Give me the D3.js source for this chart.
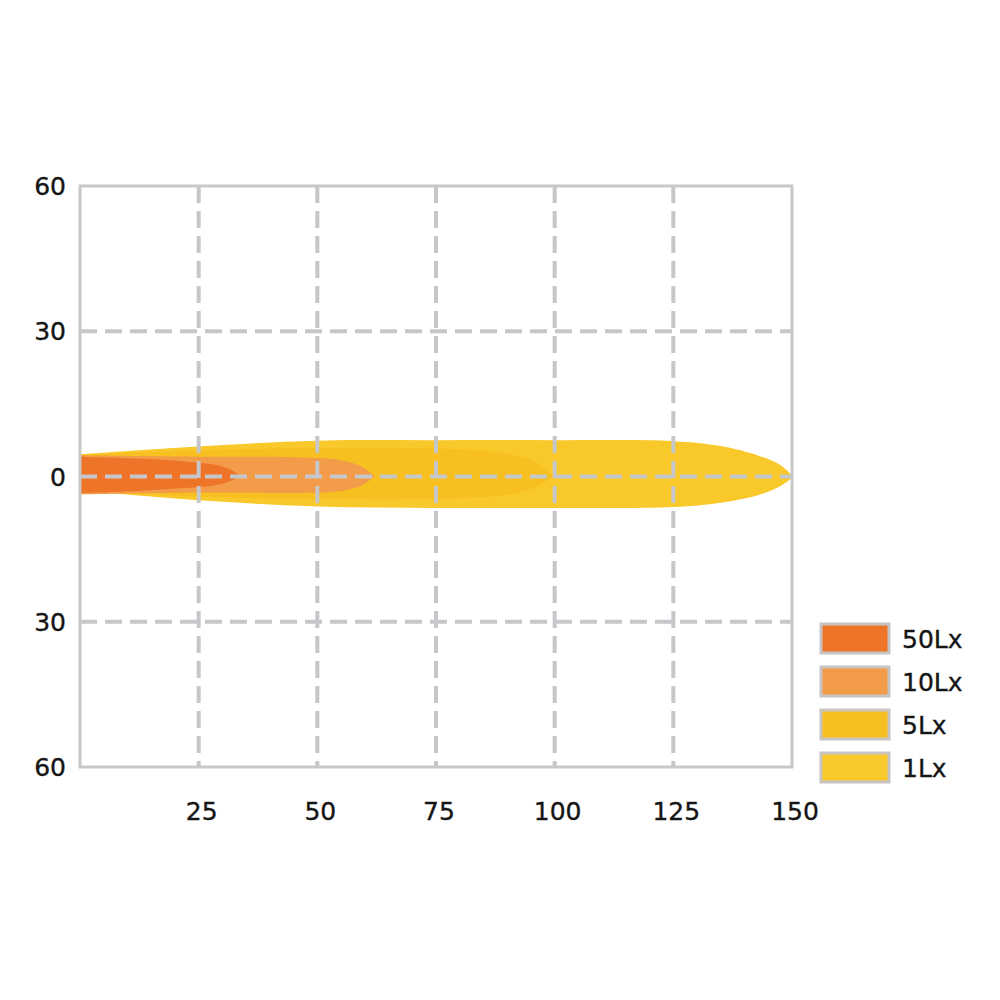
<!DOCTYPE html>
<html>
<head>
<meta charset="utf-8">
<script src="https://cdn.jsdelivr.net/npm/d3@7"></script>
<style>
body { margin: 0; background: #fff; }
text { font-family: "DejaVu Sans", Verdana, sans-serif; fill: #151515; stroke: #151515; stroke-width: 0.35px; }
</style>
</head>
<body>
<svg></svg>
<script>
var width = 1000;
var height = 1000;

var xTicks = [25, 50, 75, 100, 125, 150];
var yTicks = [60, 30, 0, -30, -60];
var yTickLabels = ['60', '30', '0', '30', '60'];

var levels = ['50Lx', '10Lx', '5Lx', '1Lx'];
var colors = ['#ee7527', '#f29b49', '#f7bf1f', '#f9c92b'];

// [distance, upper edge, lower edge]
var lux1 = [[0, 4.6, -2.9], [25, 6.2, -4.9], [50, 7.4, -6.2], [75, 7.5, -6.5], [100, 7.5, -6.5],
            [125, 7.3, -6.3], [135, 6.3, -5.4], [143, 4.3, -3.8], [147.5, 2.4, -2.0], [150, 0.3, -0.3]];
var lux5 = [[0, 4.4, -2.8], [25, 5.4, -4.2], [50, 5.9, -4.6], [75, 5.8, -4.6], [88, 5.0, -4.0],
            [95, 3.4, -2.6], [98.5, 1.2, -0.8], [99.5, 0.2, -0.1]];
var lux10 = [[0, 4.4, -3.7], [25, 4.1, -3.3], [45, 4.0, -3.4], [54, 3.5, -3.1], [59, 2.2, -2.0],
             [61.5, 0.5, -0.4], [62, 0.1, 0]];
var lux50 = [[0, 4.1, -3.4], [12, 3.7, -3.0], [22, 3.1, -2.4], [29, 2.3, -1.7], [32.5, 1.0, -0.6],
             [33.5, 0.2, 0]];

var x = d3.scaleLinear().domain([0, 150]).range([80, 792]);
var y = d3.scaleLinear().domain([60, -60]).range([186, 767]);

var svg = d3.select('svg')
    .attr('width', width)
    .attr('height', height);

svg.append('clipPath').attr('id', 'plot')
  .append('rect')
    .attr('x', x(0)).attr('y', y(60))
    .attr('width', x(150) - x(0)).attr('height', y(-60) - y(60));

var area = d3.area()
    .x(d => x(d[0]))
    .y0(d => y(d[2]))
    .y1(d => y(d[1]))
    .curve(d3.curveCatmullRom);

var beams = svg.append('g').attr('clip-path', 'url(#plot)');
[lux1, lux5, lux10, lux50].forEach((d, i) => {
  beams.append('path')
    .datum(d)
    .attr('d', area)
    .attr('fill', colors[3 - i]);
});

// grid
var grid = svg.append('g')
    .attr('stroke', '#c6c7cb')
    .attr('stroke-width', 4)
    .attr('stroke-dasharray', '17,8');

grid.selectAll('.vx')
  .data(xTicks.slice(0, -1))
  .enter().append('line')
    .attr('x1', d => x(d)).attr('x2', d => x(d))
    .attr('y1', y(60)).attr('y2', y(-60));

grid.selectAll('.hy')
  .data(yTicks.slice(1, -1))
  .enter().append('line')
    .attr('x1', x(0)).attr('x2', x(150))
    .attr('y1', d => y(d)).attr('y2', d => y(d));

svg.append('rect')
    .attr('x', x(0)).attr('y', y(60))
    .attr('width', x(150) - x(0)).attr('height', y(-60) - y(60))
    .attr('fill', 'none')
    .attr('stroke', '#c8c8c8')
    .attr('stroke-width', 3);

// tick labels
svg.selectAll('.ylab')
  .data(yTicks)
  .enter().append('text')
    .attr('x', 66)
    .attr('y', d => y(d))
    .attr('dy', '0.36em')
    .attr('text-anchor', 'end')
    .attr('font-size', 25)
    .text((d, i) => yTickLabels[i]);

svg.selectAll('.xlab')
  .data(xTicks)
  .enter().append('text')
    .attr('x', d => x(d) + 3)
    .attr('y', 811)
    .attr('dy', '0.36em')
    .attr('text-anchor', 'middle')
    .attr('font-size', 25)
    .text(d => d);

// legend
var legend = svg.selectAll('.leg')
  .data(levels)
  .enter().append('g')
    .attr('transform', (d, i) => 'translate(821,' + (624 + i * 43) + ')');

legend.append('rect')
    .attr('width', 68)
    .attr('height', 29)
    .attr('fill', (d, i) => colors[i])
    .attr('stroke', '#c9c4c4')
    .attr('stroke-width', 3);

legend.append('text')
    .attr('x', 81)
    .attr('y', 15)
    .attr('dy', '0.36em')
    .attr('font-size', 25)
    .text(d => d);
</script>
</body>
</html>
